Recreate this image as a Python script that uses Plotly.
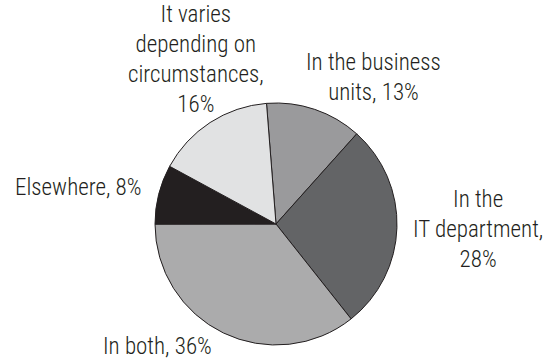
import plotly.graph_objects as go

# Where responsibility sits, share of respondents (%)
labels = [
    "In the business units",
    "In the IT department",
    "In both",
    "Elsewhere",
    "It varies depending on circumstances",
]
values = [13, 28, 36, 8, 16]
colors = ["#9a9a9c", "#636466", "#ababac", "#231f20", "#e1e2e3"]

# Label text, broken over lines, and label anchor points (pixels from top-left)
label_lines = [
    ["In the business", "units, {v}%"],
    ["In the", "IT department,", "{v}%"],
    ["In both, {v}%"],
    ["Elsewhere, {v}%"],
    ["It varies", "depending on", "circumstances,", "{v}%"],
]
label_px = [(373, 77), (478, 229), (157, 346), (78, 187), (196, 60)]

W, H = 551, 360
CX, CY, R = 276, 224, 121
TEXT = "#231f20"
FONT = "Liberation Sans Narrow, Arial Narrow, Roboto Condensed, sans-serif"

fig = go.Figure(
    go.Pie(
        labels=labels,
        values=values,
        sort=False,
        direction="clockwise",
        rotation=-4.5,
        marker=dict(colors=colors, line=dict(color="#231f20", width=1)),
        textinfo="none",
        hoverinfo="label+percent",
        domain=dict(
            x=[(CX - R) / W, (CX + R) / W],
            y=[(H - CY - R) / H, (H - CY + R) / H],
        ),
        showlegend=False,
    )
)

for lines, v, (px, py) in zip(label_lines, values, label_px):
    fig.add_annotation(
        text="<br>".join(l.format(v=v) for l in lines),
        x=px / W,
        y=1 - py / H,
        xref="paper",
        yref="paper",
        xanchor="center",
        yanchor="middle",
        showarrow=False,
        align="center",
        borderpad=0,
        font=dict(family=FONT, size=23, color=TEXT, weight=300),
    )

fig.update_layout(
    width=W,
    height=H,
    margin=dict(l=0, r=0, t=0, b=0),
    paper_bgcolor="white",
    plot_bgcolor="white",
)

fig.write_html("out.html")
